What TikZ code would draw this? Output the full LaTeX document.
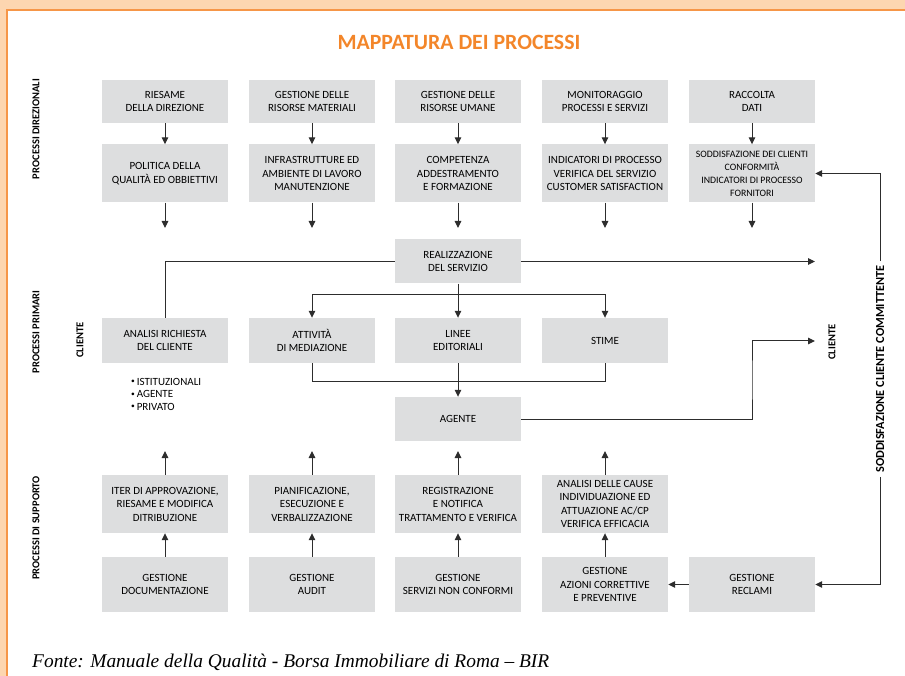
\documentclass[tikz,border=0pt]{standalone}
\usepackage{fontspec}
\setmainfont{Carlito}
\newfontfamily\fontefont{Liberation Serif}
\usetikzlibrary{arrows.meta}
\definecolor{boxgray}{RGB}{221,222,223}
\definecolor{titleorange}{RGB}{243,134,42}
\definecolor{peach}{RGB}{253,214,176}
\definecolor{frameorange}{RGB}{246,150,72}
\definecolor{linegray}{RGB}{45,45,45}
\newcommand{\puntino}{\raisebox{1.6pt}{\fontsize{7.5}{8}\selectfont •}\,}

\begin{document}
\begin{tikzpicture}[
  x=1pt, y=-1pt,
  box/.style={fill=boxgray, minimum width=126pt, minimum height=#1, inner sep=1pt, align=center, font=\fontsize{11}{13.5}\selectfont},
  box/.default=44pt,
  flow/.style={-{Triangle[length=7pt, width=6.5pt]}, line width=1pt, draw=linegray},
  link/.style={line width=1pt, draw=linegray},
  sidelabel/.style={rotate=90, font=\bfseries\fontsize{10.5}{12}\selectfont}
]
\useasboundingbox (0,0) rectangle (905,676);

% frame
\fill[peach] (0,0) rectangle (905,9.5);
\fill[peach] (0,0) rectangle (6,676);
\draw[frameorange, line width=1.6pt] (6.8,676) |- (905,10.3);

\node[text=titleorange, font=\bfseries\fontsize{21.8}{24}\selectfont] (titolo) at (459,42) {MAPPATURA DEI PROCESSI};

% side labels
\node[sidelabel] (direz) at (36,129) {PROCESSI DIREZIONALI};
\node[sidelabel] (primari) at (36,332) {PROCESSI PRIMARI};
\node[sidelabel] (supporto) at (36,528) {PROCESSI DI SUPPORTO};
\node[sidelabel] (clienteL) at (80,340) {CLIENTE};
\node[sidelabel] (clienteR) at (832,342) {CLIENTE};
\node[sidelabel, inner sep=4pt, font=\bfseries\fontsize{12.3}{14}\selectfont] (commit) at (880,369) {SODDISFAZIONE CLIENTE COMMITTENTE};

% processi direzionali
\node[box=43pt] (riesame) at (165,101.5) {RIESAME\\DELLA DIREZIONE};
\node[box=43pt] (rismat) at (312,101.5) {GESTIONE DELLE\\RISORSE MATERIALI};
\node[box=43pt] (risum) at (458,101.5) {GESTIONE DELLE\\RISORSE UMANE};
\node[box=43pt] (monit) at (605,101.5) {MONITORAGGIO\\PROCESSI E SERVIZI};
\node[box=43pt] (raccolta) at (752,101.5) {RACCOLTA\\DATI};

\node[box=58pt] (politica) at (165,173.5) {POLITICA DELLA\\QUALITÀ ED OBBIETTIVI};
\node[box=58pt] (infra) at (312,173.5) {INFRASTRUTTURE ED\\AMBIENTE DI LAVORO\\MANUTENZIONE};
\node[box=58pt] (compet) at (458,173.5) {COMPETENZA\\ADDESTRAMENTO\\E FORMAZIONE};
\node[box=58pt] (indic) at (605,173.5) {INDICATORI DI PROCESSO\\VERIFICA DEL SERVIZIO\\CUSTOMER SATISFACTION};
\node[box=58pt, font=\fontsize{9.8}{13}\selectfont] (sodd) at (752,173.5) {SODDISFAZIONE DEI CLIENTI\\CONFORMITÀ\\INDICATORI DI PROCESSO\\FORNITORI};

\coordinate (politica-out) at (165,228);
\coordinate (infra-out) at (312,228);
\coordinate (compet-out) at (458,228);
\coordinate (indic-out) at (605,228);
\coordinate (sodd-out) at (752,228);

% processi primari
\node[box] (real) at (458,261.5) {REALIZZAZIONE\\DEL SERVIZIO};
\node[box=45pt] (analisi) at (165,340.5) {ANALISI RICHIESTA\\DEL CLIENTE};
\node[box=45pt] (attivita) at (312,340.5) {ATTIVITÀ\\DI MEDIAZIONE};
\node[box=45pt] (linee) at (458,340.5) {LINEE\\EDITORIALI};
\node[box=45pt] (stime) at (605,340.5) {STIME};
\node[box] (agente) at (458,419) {AGENTE};
\node[anchor=north west, align=left, inner sep=0pt, font=\fontsize{11}{12.5}\selectfont] (tipi) at (131,378) {\puntino ISTITUZIONALI\\\puntino AGENTE\\\puntino PRIVATO};

\coordinate (serv-out) at (815,261.5);
\coordinate (split) at (458,295);
\coordinate (merge) at (458,381);
\coordinate (bend) at (752,380);
\coordinate (cliente-in) at (815,341);

% processi di supporto
\node[box=58pt] (iter) at (165,504) {ITER DI APPROVAZIONE,\\RIESAME E MODIFICA\\DITRIBUZIONE};
\node[box=58pt] (pianif) at (312,504) {PIANIFICAZIONE,\\ESECUZIONE E\\VERBALIZZAZIONE};
\node[box=58pt] (registr) at (458,504) {REGISTRAZIONE\\E NOTIFICA\\TRATTAMENTO E VERIFICA};
\node[box=58pt] (cause) at (605,504) {ANALISI DELLE CAUSE\\INDIVIDUAZIONE ED\\ATTUAZIONE AC/CP\\VERIFICA EFFICACIA};

\node[box=55pt] (gdoc) at (165,584.5) {GESTIONE\\DOCUMENTAZIONE};
\node[box=55pt] (gaudit) at (312,584.5) {GESTIONE\\AUDIT};
\node[box=55pt] (gnc) at (458,584.5) {GESTIONE\\SERVIZI NON CONFORMI};
\node[box=55pt] (gazioni) at (605,584.5) {GESTIONE\\AZIONI CORRETTIVE\\E PREVENTIVE};
\node[box=55pt] (reclami) at (752,584.5) {GESTIONE\\RECLAMI};

\coordinate (iter-out) at (165,451);
\coordinate (pianif-out) at (312,451);
\coordinate (registr-out) at (458,451);
\coordinate (cause-out) at (605,451);

\node[anchor=base west, inner sep=0pt, font=\fontefont\itshape\fontsize{19.4}{22}\selectfont] (fonte) at (32,667) {Fonte: Manuale della Qualità - Borsa Immobiliare di Roma – BIR};

% Arrows
\draw[flow] (riesame) -- (politica);
\draw[flow] (rismat) -- (infra);
\draw[flow] (risum) -- (compet);
\draw[flow] (monit) -- (indic);
\draw[flow] (raccolta) -- (sodd);
\draw[flow] (politica) -- (politica-out);
\draw[flow] (infra) -- (infra-out);
\draw[flow] (compet) -- (compet-out);
\draw[flow] (indic) -- (indic-out);
\draw[flow] (sodd) -- (sodd-out);

\draw[link] (real) -| (analisi);
\draw[flow] (real) -- (serv-out);
\draw[flow] (real) -- (linee);
\draw[flow] (split) -| (attivita);
\draw[flow] (split) -| (stime);
\draw[link] (attivita) |- (merge);
\draw[link] (stime) |- (merge);
\draw[flow] (linee) -- (agente);
\draw[flow] (agente) -| (bend) |- (cliente-in);

\draw[flow] (gdoc) -- (iter);
\draw[flow] (gaudit) -- (pianif);
\draw[flow] (gnc) -- (registr);
\draw[flow] (gazioni) -- (cause);
\draw[flow] (iter) -- (iter-out);
\draw[flow] (pianif) -- (pianif-out);
\draw[flow] (registr) -- (registr-out);
\draw[flow] (cause) -- (cause-out);
\draw[flow] (reclami) -- (gazioni);

\draw[flow] (commit.east) |- (sodd);
\draw[flow] (commit.west) |- (reclami);

\end{tikzpicture}
\end{document}
